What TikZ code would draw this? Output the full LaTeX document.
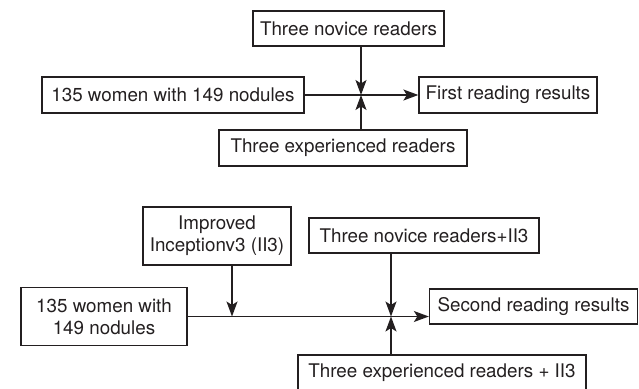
\documentclass[tikz,border=0pt]{standalone}
\usepackage{fontspec}
\setmainfont{TeX Gyre Heros}
\usetikzlibrary{arrows.meta}
\definecolor{ink}{HTML}{231F20}
\begin{document}
\begin{tikzpicture}[x=1pt,y=-1pt,
  box/.style={draw=ink, line width=1.3pt, rectangle, inner sep=0pt, align=center,
    text=ink, font=\fontsize{18.8}{22}\selectfont},
  conn/.style={draw=ink, line width=1.3pt, -{Stealth[length=15pt,width=11pt,inset=3.5pt]}}]
\useasboundingbox (0,0) rectangle (639,388);
% top section
\node[box, minimum width=191pt, minimum height=35pt] (nov1) at (348.5,28.5) {Three novice readers};
\node[box, minimum width=262pt, minimum height=36pt] (wom1) at (173,95) {135 women with 149 nodules};
\node[box, minimum width=248pt, minimum height=36pt] (exp1) at (343,148) {Three experienced readers};
\node[box, minimum width=178pt, minimum height=36pt] (res1) at (508,95) {First reading results};
\coordinate (j1) at (361,95);
\draw[conn] (wom1.east) -- (res1.west);
\draw[conn] (nov1.south -| j1) -- (j1);
\draw[conn] (exp1.north -| j1) -- (j1);
% bottom section
\node[box, minimum width=148pt, minimum height=58pt] (imp) at (217,236) {Improved\\Inceptionv3 (II3)};
\node[box, minimum width=166pt, minimum height=58pt] (wom2) at (104,316.5) {135 women with\\149 nodules};
\node[box, minimum width=230pt, minimum height=35pt] (nov2) at (424,235.5) {Three novice readers+II3};
\node[box, minimum width=208pt, minimum height=35pt] (res2) at (533.5,306.5) {Second reading results};
\node[box, minimum width=288pt, minimum height=35pt] (exp2) at (442,372.5) {Three experienced readers + II3};
\coordinate (j2) at (391,316.5);
\coordinate (j3) at (232,316.5);
\draw[conn] (wom2.east) -- (wom2.east -| res2.west);
\draw[conn] (imp.south -| j3) -- (j3);
\draw[conn] (nov2.south -| j2) -- (j2);
\draw[conn] (exp2.north -| j2) -- (j2);
\end{tikzpicture}
\end{document}
